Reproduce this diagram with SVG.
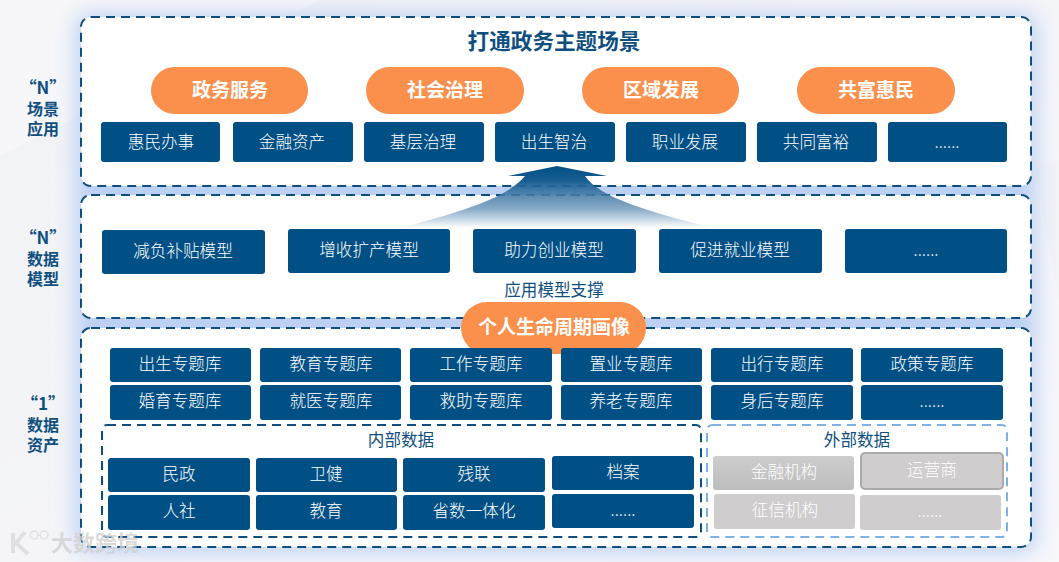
<svg xmlns="http://www.w3.org/2000/svg" width="1059" height="562" viewBox="0 0 1059 562">
<style>
text{font-family:"Noto Sans CJK SC","Noto Sans",sans-serif;text-anchor:middle}
.panel{fill:#fff;stroke:#0f4f7f;stroke-width:2;stroke-dasharray:9 6}
.inner{fill:#fff;stroke:#0f4f7f;stroke-width:2;stroke-dasharray:9 6}
.outer{fill:#fff;stroke:#7fb0e6;stroke-width:2;stroke-dasharray:9 6}
.b{fill:#004f85}
.g{fill:#cfcdce}
.pill{fill:#fb8f4c}
.t{fill:#fff;font-size:16.6px;font-weight:300}
.p{fill:#fff;font-size:19px;font-weight:700}
.s{fill:#0f4f7f;font-size:16px;font-weight:700}
.q{font-size:17px}
.l{fill:#0f4f7f;font-size:16.6px;font-weight:400}
.gt{fill:#fff;font-size:16.6px;font-weight:300}
</style>
<defs>
<linearGradient id="bg" x1="0" y1="0" x2="1" y2="1"><stop offset="0" stop-color="#f1f2f5"/><stop offset="1" stop-color="#f8f8fb"/></linearGradient>
<linearGradient id="arrow" x1="0" y1="166" x2="0" y2="228" gradientUnits="userSpaceOnUse"><stop offset="0" stop-color="#004f85"/><stop offset="0.25" stop-color="#1a5f92"/><stop offset="0.4" stop-color="#2f6c9c" stop-opacity="0.85"/><stop offset="0.7" stop-color="#86a9c6" stop-opacity="0.95"/><stop offset="1" stop-color="#ffffff"/></linearGradient>
<linearGradient id="gb" x1="0" y1="0" x2="0" y2="1"><stop offset="0" stop-color="#cdcdcd"/><stop offset="1" stop-color="#bdbdbd"/></linearGradient>
<filter id="glow" x="-6%" y="-10%" width="112%" height="120%"><feGaussianBlur stdDeviation="11"/></filter>
</defs>
<rect width="1059" height="562" fill="url(#bg)"/>
<polygon points="0,0 320,0 0,155" fill="#f7f7f9"/>
<polygon points="1059,160 1059,300 1035,170" fill="#f2f3f7"/>
<g filter="url(#glow)" fill="#bcd0f3">
<rect x="76" y="14" width="960" height="538" rx="10"/>
</g>
<g id="panel-scenes"><rect class="panel" x="81" y="17" width="950" height="169" rx="10"/></g>
<g id="panel-models"><rect class="panel" x="81" y="195" width="950" height="123" rx="10"/></g>
<g id="panel-assets"><rect class="panel" x="81" y="328" width="950" height="219" rx="10"/></g>
<g id="connectors">
<path d="M557 166 L607 176 L585 176 C600 198 650 212 713 228 L400 228 C460 212 507 198 525 176 L508 176 Z" fill="url(#arrow)"/>
</g>
<g id="label-n1"><text class="s" x="43" y="94"><tspan class="q">“N”</tspan><tspan x="43" dy="21">场景</tspan><tspan x="43" dy="20">应用</tspan></text></g>
<g id="label-n2"><text class="s" x="43" y="244"><tspan class="q">“N”</tspan><tspan x="43" dy="21">数据</tspan><tspan x="43" dy="20">模型</tspan></text></g>
<g id="label-1"><text class="s" x="43" y="410"><tspan class="q">“1”</tspan><tspan x="43" dy="21">数据</tspan><tspan x="43" dy="20">资产</tspan></text></g>
<g id="title"><text x="554" y="49" style="font-size:21.6px;font-weight:700;fill:#0f4f7f">打通政务主题场景</text></g>
<g id="pill-1"><rect class="pill" x="151" y="67" width="157" height="47" rx="23.5"/><text class="p" x="230" y="97">政务服务</text></g>
<g id="pill-2"><rect class="pill" x="366" y="67" width="158" height="47" rx="23.5"/><text class="p" x="445" y="97">社会治理</text></g>
<g id="pill-3"><rect class="pill" x="582" y="67" width="157" height="47" rx="23.5"/><text class="p" x="661" y="97">区域发展</text></g>
<g id="pill-4"><rect class="pill" x="797" y="67" width="158" height="47" rx="23.5"/><text class="p" x="876" y="97">共富惠民</text></g>
<g id="s1"><rect class="b" x="101" y="122" width="119" height="40" rx="3"/><text class="t" x="161" y="148">惠民办事</text></g>
<g id="s2"><rect class="b" x="233" y="122" width="120" height="40" rx="3"/><text class="t" x="292" y="148">金融资产</text></g>
<g id="s3"><rect class="b" x="364" y="122" width="120" height="40" rx="3"/><text class="t" x="423" y="148">基层治理</text></g>
<g id="s4"><rect class="b" x="495" y="122" width="120" height="40" rx="3"/><text class="t" x="554" y="148">出生智治</text></g>
<g id="s5"><rect class="b" x="626" y="122" width="120" height="40" rx="3"/><text class="t" x="685" y="148">职业发展</text></g>
<g id="s6"><rect class="b" x="757" y="122" width="120" height="40" rx="3"/><text class="t" x="816" y="148">共同富裕</text></g>
<g id="s7"><rect class="b" x="888" y="122" width="119" height="40" rx="3"/><text class="t" x="947" y="148">......</text></g>
<g id="m1"><rect class="b" x="102" y="230" width="163" height="44" rx="3"/><text class="t" x="183" y="257">减负补贴模型</text></g>
<g id="m2"><rect class="b" x="288" y="229" width="162" height="44" rx="3"/><text class="t" x="369" y="256">增收扩产模型</text></g>
<g id="m3"><rect class="b" x="473" y="229" width="163" height="44" rx="3"/><text class="t" x="554" y="256">助力创业模型</text></g>
<g id="m4"><rect class="b" x="659" y="229" width="163" height="44" rx="3"/><text class="t" x="740" y="256">促进就业模型</text></g>
<g id="m5"><rect class="b" x="845" y="229" width="162" height="44" rx="3"/><text class="t" x="926" y="256">......</text></g>
<g id="support"><text class="l" x="554" y="296">应用模型支撑</text></g>
<g id="pill-life"><rect class="pill" x="461" y="302" width="185" height="52" rx="26"/><text class="p" x="554" y="334">个人生命周期画像</text></g>
<g id="d1"><rect class="b" x="110" y="348" width="141" height="34" rx="3"/><text class="t" x="180" y="370">出生专题库</text></g>
<g id="d2"><rect class="b" x="260" y="348" width="141" height="34" rx="3"/><text class="t" x="331" y="370">教育专题库</text></g>
<g id="d3"><rect class="b" x="410" y="348" width="142" height="34" rx="3"/><text class="t" x="481" y="370">工作专题库</text></g>
<g id="d4"><rect class="b" x="561" y="348" width="141" height="34" rx="3"/><text class="t" x="631" y="370">置业专题库</text></g>
<g id="d5"><rect class="b" x="711" y="348" width="142" height="34" rx="3"/><text class="t" x="782" y="370">出行专题库</text></g>
<g id="d6"><rect class="b" x="861" y="348" width="142" height="34" rx="3"/><text class="t" x="932" y="370">政策专题库</text></g>
<g id="d7"><rect class="b" x="110" y="385" width="141" height="35" rx="3"/><text class="t" x="180" y="407">婚育专题库</text></g>
<g id="d8"><rect class="b" x="260" y="385" width="141" height="35" rx="3"/><text class="t" x="331" y="407">就医专题库</text></g>
<g id="d9"><rect class="b" x="410" y="385" width="142" height="35" rx="3"/><text class="t" x="481" y="407">救助专题库</text></g>
<g id="d10"><rect class="b" x="561" y="385" width="141" height="35" rx="3"/><text class="t" x="631" y="407">养老专题库</text></g>
<g id="d11"><rect class="b" x="711" y="385" width="142" height="35" rx="3"/><text class="t" x="782" y="407">身后专题库</text></g>
<g id="d12"><rect class="b" x="861" y="385" width="142" height="35" rx="3"/><text class="t" x="932" y="407">......</text></g>
<g id="internal"><rect class="inner" x="102" y="425" width="599" height="112" rx="5"/><text class="l" x="401" y="446">内部数据</text></g>
<g id="external"><rect class="outer" x="707" y="425" width="300" height="112" rx="5"/><text class="l" x="857" y="446">外部数据</text></g>
<g id="i1"><rect class="b" x="108" y="458" width="142" height="34" rx="3"/><text class="t" x="179" y="480">民政</text></g>
<g id="i2"><rect class="b" x="256" y="458" width="141" height="34" rx="3"/><text class="t" x="326" y="480">卫健</text></g>
<g id="i3"><rect class="b" x="403" y="458" width="142" height="34" rx="3"/><text class="t" x="474" y="480">残联</text></g>
<g id="i4"><rect class="b" x="552" y="456" width="142" height="34" rx="3"/><text class="t" x="623" y="478">档案</text></g>
<g id="i5"><rect class="b" x="108" y="495" width="142" height="35" rx="3"/><text class="t" x="179" y="517">人社</text></g>
<g id="i6"><rect class="b" x="256" y="495" width="141" height="35" rx="3"/><text class="t" x="326" y="517">教育</text></g>
<g id="i7"><rect class="b" x="403" y="495" width="142" height="35" rx="3"/><text class="t" x="474" y="517">省数一体化</text></g>
<g id="i8"><rect class="b" x="552" y="494" width="142" height="34" rx="3"/><text class="t" x="623" y="516">......</text></g>
<g id="e1"><rect x="713" y="456" width="141" height="34" rx="3" fill="url(#gb)"/><text class="gt" x="784" y="478">金融机构</text></g>
<g id="e2"><rect x="861" y="453" width="142" height="36" rx="4" fill="#cfcdce" stroke="#aaaaaa" stroke-width="2"/><text class="gt" x="932" y="476">运营商</text></g>
<g id="e3"><rect class="g" x="714" y="494" width="141" height="35" rx="3"/><text class="gt" x="785" y="516">征信机构</text></g>
<g id="e4"><rect class="g" x="860" y="495" width="141" height="35" rx="3"/><text class="gt" x="930" y="517">......</text></g>
<g id="watermark" opacity="0.8">
<path d="M13 533 L13 553 M25 532 L16 543 L28 554" fill="none" stroke="#dcdcdc" stroke-width="4"/>
<circle cx="34" cy="535" r="4" fill="none" stroke="#dcdcdc" stroke-width="1.5"/><circle cx="44" cy="535" r="4" fill="none" stroke="#dcdcdc" stroke-width="1.5"/>
<text x="95" y="551" style="font-size:22px;font-weight:700;fill:#d2d2d2">大数跨境</text>
</g>
</svg>
